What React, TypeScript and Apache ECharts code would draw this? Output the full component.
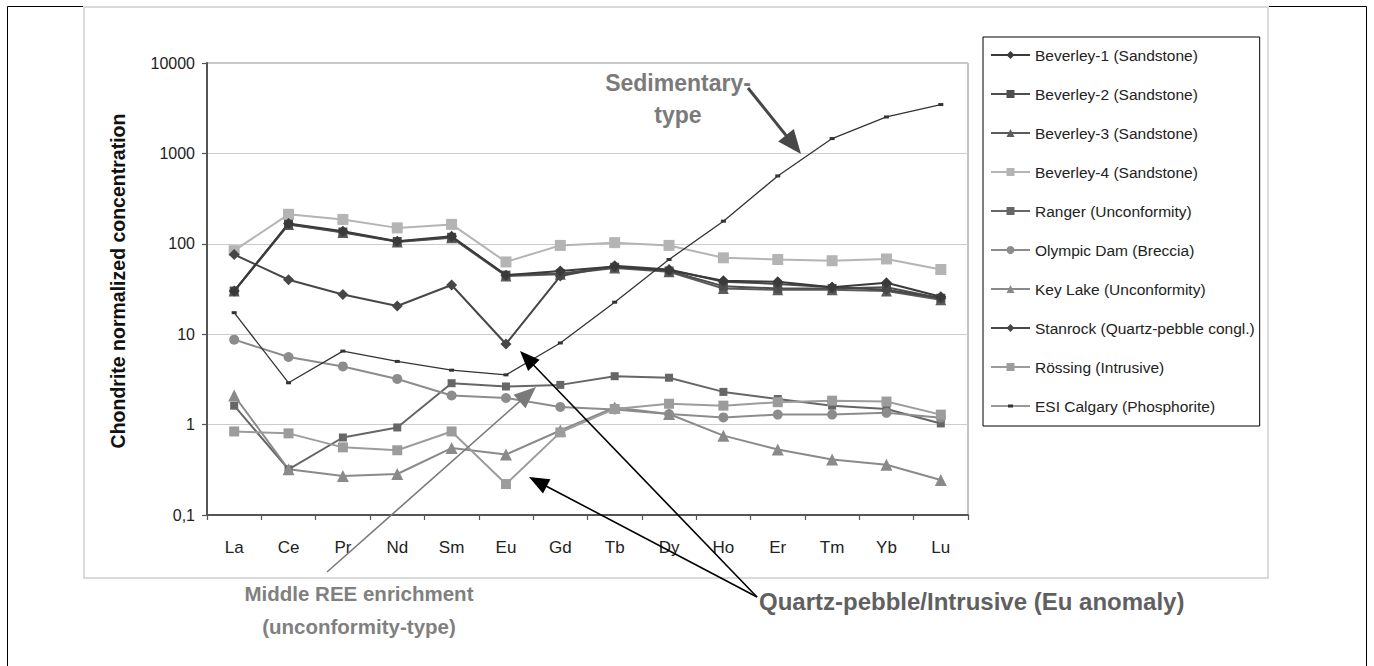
import React, { useEffect, useRef } from 'react';
import * as echarts from 'echarts';

// Rare earth elements on the category axis
const categories = ['La', 'Ce', 'Pr', 'Nd', 'Sm', 'Eu', 'Gd', 'Tb', 'Dy', 'Ho', 'Er', 'Tm', 'Yb', 'Lu'];

// Chondrite-normalized REE patterns per deposit
const beverley1 = [30, 168, 138, 107, 121, 45, 50, 56, 51, 39, 38, 33, 37, 26];
const beverley2 = [30, 165, 135, 106, 118, 45, 47, 55, 50, 34, 32, 32, 33, 25];
const beverley3 = [30, 163, 133, 105, 117, 44, 46, 54, 49, 32, 31, 31, 30, 24];
const beverley4 = [84, 212, 186, 150, 164, 63, 96, 103, 96, 70, 67, 65, 68, 52];
const ranger = [1.62, 0.32, 0.72, 0.93, 2.87, 2.64, 2.75, 3.43, 3.3, 2.3, 1.92, 1.62, 1.49, 1.03];
const olympicDam = [8.7, 5.6, 4.4, 3.2, 2.1, 1.97, 1.57, 1.47, 1.31, 1.2, 1.29, 1.29, 1.35, 1.19];
const keyLake = [2.1, 0.32, 0.27, 0.284, 0.55, 0.466, 0.86, 1.55, 1.31, 0.755, 0.53, 0.41, 0.36, 0.244];
const stanrock = [76, 40, 27.5, 20.5, 35, 7.8, 44, 57, 52, 38, 36, 33, 31, 25];
const rossing = [0.84, 0.8, 0.56, 0.52, 0.84, 0.22, 0.82, 1.49, 1.7, 1.62, 1.77, 1.84, 1.8, 1.29];
const esiCalgary = [17.3, 2.9, 6.5, 5.0, 4.0, 3.55, 8.0, 22.6, 67, 178, 563, 1459, 2530, 3470];

// Y axis tick values shown on the log scale
const yTickLabels: Record<string, string> = {
  '0.1': '0,1',
  '1': '1',
  '10': '10',
  '100': '100',
  '1000': '1000',
  '10000': '10000',
};

const FONT = "'Liberation Sans', Arial, Helvetica, sans-serif";

// legend icon for the phosphorite series: thin line with a small dash marker
const DASH_ICON = 'path://M0,4.4L39,4.4L39,5.6L0,5.6Z M17,3.5L22,3.5L22,6.5L17,6.5Z';

function arrowParts(
  x1: number, y1: number, x2: number, y2: number,
  headLen: number, headHalf: number, color: string, width: number
) {
  const dx = x2 - x1;
  const dy = y2 - y1;
  const L = Math.hypot(dx, dy);
  const ux = dx / L;
  const uy = dy / L;
  const bx = x2 - ux * headLen;
  const by = y2 - uy * headLen;
  const px = -uy;
  const py = ux;
  return [
    {
      type: 'line', z: 100,
      shape: { x1, y1, x2: bx + ux * 3, y2: by + uy * 3 },
      style: { stroke: color, lineWidth: width },
    },
    {
      type: 'polygon', z: 100,
      shape: {
        points: [
          [x2, y2],
          [bx + px * headHalf, by + py * headHalf],
          [bx - px * headHalf, by - py * headHalf],
        ],
      },
      style: { fill: color },
    },
  ];
}

function lineSeries(
  name: string, data: number[], symbol: string, size: number | number[],
  color: string, width: number, z: number
) {
  return {
    name,
    type: 'line',
    data,
    symbol,
    symbolSize: size,
    showSymbol: true,
    z,
    lineStyle: { color, width },
    itemStyle: { color, borderWidth: 0 },
    emphasis: { disabled: true },
  };
}

export default function App() {
  const ref = useRef<HTMLDivElement>(null);

  useEffect(() => {
    if (!ref.current) return;
    const chart = echarts.init(ref.current, undefined, { renderer: 'svg' });

    const series = [
      lineSeries('Beverley-1 (Sandstone)', beverley1, 'diamond', 11, '#3a3a3a', 2, 5),
      lineSeries('Beverley-2 (Sandstone)', beverley2, 'rect', 9, '#4e4e4e', 2, 4),
      lineSeries('Beverley-3 (Sandstone)', beverley3, 'triangle', 11, '#5c5c5c', 2, 3),
      lineSeries('Beverley-4 (Sandstone)', beverley4, 'rect', 11, '#b4b4b4', 2, 2),
      lineSeries('Ranger (Unconformity)', ranger, 'rect', 8, '#666666', 2, 3),
      lineSeries('Olympic Dam (Breccia)', olympicDam, 'circle', 10, '#8c8c8c', 2, 3),
      lineSeries('Key Lake (Unconformity)', keyLake, 'triangle', 12, '#8a8a8a', 2, 3),
      lineSeries('Stanrock (Quartz-pebble congl.)', stanrock, 'diamond', 11, '#474747', 2, 4),
      lineSeries('Rössing (Intrusive)', rossing, 'rect', 10, '#9c9c9c', 2, 3),
      lineSeries('ESI Calgary (Phosphorite)', esiCalgary, 'rect', [5, 3], '#333333', 1.3, 6),
    ];

    const legendData = series.map((s) =>
      s.name === 'ESI Calgary (Phosphorite)' ? { name: s.name, icon: DASH_ICON } : { name: s.name }
    );

    const graphics: any[] = [
      // outer frame
      {
        type: 'rect', z: 0, silent: true,
        shape: { x: 7.5, y: 6.5, width: 1359, height: 720 },
        style: { fill: 'none', stroke: '#000', lineWidth: 1 },
      },
      // chart area border
      {
        type: 'rect', z: 0, silent: true,
        shape: { x: 84, y: 7, width: 1184, height: 571 },
        style: { fill: 'none', stroke: '#dadada', lineWidth: 2 },
      },
      // value axis title
      {
        type: 'text', z: 50, x: 118, y: 281, rotation: Math.PI / 2,
        style: {
          text: 'Chondrite normalized concentration', fill: '#111',
          font: `bold 19.5px ${FONT}`, align: 'center', verticalAlign: 'middle',
        },
      },
      // Sedimentary-type annotation
      {
        type: 'text', z: 100, x: 678, y: 83,
        style: {
          text: 'Sedimentary-', fill: '#7a7a7a', font: `bold 23px ${FONT}`,
          align: 'center', verticalAlign: 'middle',
        },
      },
      {
        type: 'text', z: 100, x: 678, y: 115,
        style: {
          text: 'type', fill: '#7a7a7a', font: `bold 23px ${FONT}`,
          align: 'center', verticalAlign: 'middle',
        },
      },
      ...arrowParts(748, 88, 801, 154, 24, 10, '#474747', 3),
      // Middle REE enrichment annotation
      {
        type: 'text', z: 100, x: 359, y: 593,
        style: {
          text: 'Middle REE enrichment', fill: '#808080', font: `bold 20.5px ${FONT}`,
          align: 'center', verticalAlign: 'middle',
        },
      },
      {
        type: 'text', z: 100, x: 359, y: 626,
        style: {
          text: '(unconformity-type)', fill: '#808080', font: `bold 20.5px ${FONT}`,
          align: 'center', verticalAlign: 'middle',
        },
      },
      ...arrowParts(327, 572, 536, 387, 22, 9, '#7a7a7a', 1.6),
      // Eu anomaly annotation
      {
        type: 'text', z: 100, x: 759, y: 601,
        style: {
          text: 'Quartz-pebble/Intrusive (Eu anomaly)', fill: '#606060',
          font: `bold 24px ${FONT}`, align: 'left', verticalAlign: 'middle',
        },
      },
      ...arrowParts(757, 597, 520, 351, 20, 8, '#000000', 1.6),
      ...arrowParts(757, 597, 529, 477, 20, 8, '#000000', 1.6),
    ];

    chart.setOption({
      animation: false,
      backgroundColor: '#ffffff',
      textStyle: { fontFamily: FONT },
      grid: {
        left: 207, right: 406, top: 63, bottom: 151,
        show: true, borderColor: '#8a8a8a', borderWidth: 1,
        backgroundColor: 'transparent',
      },
      legend: {
        orient: 'vertical',
        left: 983,
        top: 37,
        padding: [10, 5, 12, 7],
        itemGap: 23,
        itemWidth: 39,
        itemHeight: 10,
        borderColor: '#000',
        borderWidth: 1,
        textStyle: { fontSize: 15.5, color: '#222', fontFamily: FONT, lineHeight: 16 },
        data: legendData,
        selectedMode: false,
      },
      xAxis: {
        type: 'category',
        data: categories,
        boundaryGap: true,
        axisLine: { show: true, lineStyle: { color: '#555', width: 2 } },
        axisTick: { show: true, length: 5, lineStyle: { color: '#555', width: 1.2 } },
        axisLabel: { fontSize: 17, color: '#222', margin: 24, fontFamily: FONT },
        splitLine: { show: false },
      },
      yAxis: {
        type: 'log',
        logBase: 10,
        min: 0.1,
        max: 10000,
        axisLine: { show: true, lineStyle: { color: '#555', width: 2 } },
        axisTick: { show: true, length: 5, lineStyle: { color: '#555', width: 1.2 } },
        axisLabel: {
          fontSize: 16, color: '#222', margin: 12, fontFamily: FONT,
          formatter: (v: number) => {
            const key = String(Math.round(v * 10) / 10);
            return yTickLabels[key] ?? String(v);
          },
        },
        splitLine: { show: true, lineStyle: { color: '#cccccc', width: 1 } },
      },
      series,
      graphic: graphics,
    });

    return () => chart.dispose();
  }, []);

  return (
    <div
      ref={ref}
      style={{ position: 'fixed', left: 0, top: 0, width: 1374, height: 666, background: '#fff' }}
    />
  );
}
